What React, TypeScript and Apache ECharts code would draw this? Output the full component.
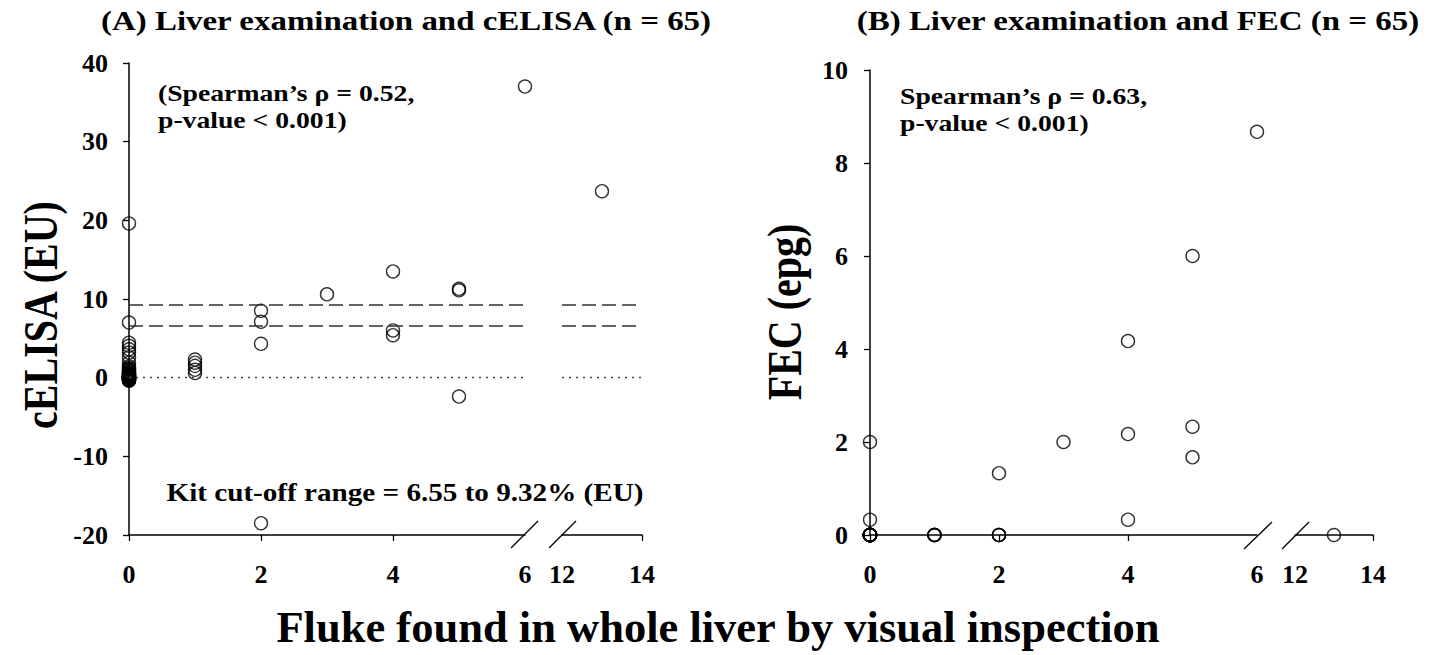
import React, { useEffect, useRef } from "react";
import * as echarts from "echarts";

const flukeCounts = [0, 1, 2, 3, 4, 5, 6, 13];

const elisaByFluke: number[][] = [
  [
    19.6, 7.0, 4.45, 4.05, 3.6, 3.2, 2.6,
    1.9, 1.45, 1.25, 1.1, 1.0, 0.9, 0.8, 0.7, 0.6, 0.55,
    0.5, 0.45, 0.4, 0.35, 0.3, 0.25, 0.2, 0.18, 0.15, 0.12,
    0.1, 0.08, 0.05, 0.03, 0.0, 0.0, 0.0, -0.02, -0.05, -0.08,
    -0.1, -0.12, -0.15, -0.18, -0.2, -0.25, -0.28, -0.3, -0.35, -0.4,
  ],
  [2.3, 1.9, 1.5, 1.0, 0.6],
  [8.5, 7.1, 4.3, -18.5],
  [10.6],
  [13.5, 6.0, 5.4],
  [11.3, 11.1, -2.4],
  [37.0],
  [23.7],
];

const fecByFluke: number[][] = [
  [
    2.0, 0.33,
    0, 0, 0, 0, 0, 0, 0, 0, 0, 0, 0, 0, 0, 0, 0,
    0, 0, 0, 0, 0, 0, 0, 0, 0, 0, 0, 0, 0, 0, 0,
    0, 0, 0, 0, 0, 0, 0, 0, 0, 0, 0, 0, 0, 0, 0,
  ],
  [0, 0, 0, 0, 0],
  [1.33, 0, 0, 0],
  [2.0],
  [4.17, 2.17, 0.33],
  [6.0, 2.33, 1.67],
  [8.67],
  [0],
];

const cutoffLow = 6.55;
const cutoffHigh = 9.32;

const xTicksMain = [0, 2, 4];
const xTicksBreak = [14];
const elisaTicks = [-20, -10, 0, 10, 20, 30, 40];
const fecTicks = [0, 2, 4, 6, 8, 10];

const FONT = '"Liberation Serif", "Times New Roman", serif';

function points(byFluke: number[][], keep: (x: number) => boolean) {
  const out: number[][] = [];
  flukeCounts.forEach((x, i) => {
    if (!keep(x)) return;
    byFluke[i].forEach((v) => out.push([x, v]));
  });
  return out;
}

export default function App() {
  const ref = useRef<HTMLDivElement>(null);

  useEffect(() => {
    document.body.style.margin = "0";
    if (!ref.current) return;
    const chart = echarts.init(ref.current, null, { renderer: "svg" });

    const axisLine = { show: true, onZero: false, lineStyle: { color: "#000", width: 1.5 } };
    const labelStyle = {
      color: "#000",
      fontFamily: FONT,
      fontWeight: "bold" as const,
      fontSize: 26,
    };

    const sym = {
      symbol: "circle",
      symbolSize: 13,
      itemStyle: { color: "transparent", borderColor: "#000", borderWidth: 1.4 },
      emphasis: { disabled: true },
    };

    const cutLines = {
      silent: true,
      symbol: ["none", "none"],
      label: { show: false },
      data: [
        { yAxis: cutoffHigh, lineStyle: { type: [14, 6], color: "#333", width: 1.7 } },
        { yAxis: cutoffLow, lineStyle: { type: [14, 6], color: "#333", width: 1.7 } },
        { yAxis: 0, lineStyle: { type: [2, 5], color: "#444", width: 1.4 } },
      ],
    };

    const lineStyle = { stroke: "#000", lineWidth: 1.3 };

    const text = (
      x: number,
      y: number,
      t: string,
      size: number,
      align: string = "center",
      opts: { rotation?: number; scaleX?: number; scaleY?: number } = {}
    ) => ({
      type: "text",
      x,
      y,
      rotation: opts.rotation ?? 0,
      scaleX: opts.scaleX ?? 1,
      scaleY: opts.scaleY ?? 1,
      style: {
        text: t,
        x: 0,
        y: 0,
        fill: "#000",
        font: `bold ${size}px ${FONT}`,
        textAlign: align,
        textVerticalAlign: "middle",
      },
    });

    const xAxisCommon = {
      type: "value",
      interval: 2,
      axisLine,
      splitLine: { show: false },
      axisLabel: { ...labelStyle, margin: 26 },
    };

    chart.setOption({
      animation: false,
      backgroundColor: "#fff",
      grid: [
        { left: 129, top: 63, width: 396, height: 472 },
        { left: 562, top: 63, width: 80, height: 472 },
        { left: 870, top: 70, width: 387, height: 465 },
        { left: 1295, top: 70, width: 78, height: 465 },
      ],
      xAxis: [
        {
          ...xAxisCommon, gridIndex: 0, min: 0, max: 6,
          axisTick: { show: true, length: 6, customValues: xTicksMain, lineStyle: { color: "#000", width: 1.3 } },
        },
        {
          ...xAxisCommon, gridIndex: 1, min: 12, max: 14,
          axisTick: { show: true, length: 6, customValues: xTicksBreak, lineStyle: { color: "#000", width: 1.3 } },
        },
        {
          ...xAxisCommon, gridIndex: 2, min: 0, max: 6,
          axisTick: { show: true, length: 6, customValues: xTicksMain, lineStyle: { color: "#000", width: 1.3 } },
        },
        {
          ...xAxisCommon, gridIndex: 3, min: 12, max: 14,
          axisTick: { show: true, length: 6, customValues: xTicksBreak, lineStyle: { color: "#000", width: 1.3 } },
        },
      ],
      yAxis: [
        {
          type: "value", gridIndex: 0, min: -20, max: 40, interval: 10,
          axisLine, splitLine: { show: false },
          axisTick: { show: true, length: 6, customValues: elisaTicks, lineStyle: { color: "#000", width: 1.3 } },
          axisLabel: { ...labelStyle, margin: 21 },
        },
        { type: "value", gridIndex: 1, min: -20, max: 40, interval: 10, show: false },
        {
          type: "value", gridIndex: 2, min: 0, max: 10, interval: 2,
          axisLine, splitLine: { show: false },
          axisTick: { show: true, length: 6, customValues: fecTicks, lineStyle: { color: "#000", width: 1.3 } },
          axisLabel: { ...labelStyle, margin: 22 },
        },
        { type: "value", gridIndex: 3, min: 0, max: 10, interval: 2, show: false },
      ],
      series: [
        {
          type: "scatter", xAxisIndex: 0, yAxisIndex: 0, ...sym,
          data: points(elisaByFluke, (x) => x <= 6), markLine: cutLines,
        },
        {
          type: "scatter", xAxisIndex: 1, yAxisIndex: 1, ...sym,
          data: points(elisaByFluke, (x) => x >= 12), markLine: cutLines,
        },
        {
          type: "scatter", xAxisIndex: 2, yAxisIndex: 2, ...sym,
          data: points(fecByFluke, (x) => x <= 6),
        },
        {
          type: "scatter", xAxisIndex: 3, yAxisIndex: 3, ...sym,
          data: points(fecByFluke, (x) => x >= 12),
        },
      ],
      graphic: [
        { type: "line", shape: { x1: 511, y1: 548, x2: 538, y2: 521 }, style: lineStyle },
        { type: "line", shape: { x1: 549, y1: 548, x2: 576, y2: 521 }, style: lineStyle },
        { type: "line", shape: { x1: 1244, y1: 549, x2: 1272, y2: 522 }, style: lineStyle },
        { type: "line", shape: { x1: 1282, y1: 549, x2: 1309, y2: 522 }, style: lineStyle },
        text(406, 21, "(A) Liver examination and cELISA (n = 65)", 27, "center", { scaleX: 1.22 }),
        text(1138, 21, "(B) Liver examination and FEC (n = 65)", 27, "center", { scaleX: 1.22 }),
        text(158, 93, "(Spearman\u2019s \u03c1 = 0.52,", 22.5, "left", { scaleX: 1.23 }),
        text(158, 120, "p-value < 0.001)", 22.5, "left", { scaleX: 1.23 }),
        text(900, 96, "Spearman\u2019s \u03c1 = 0.63,", 22.5, "left", { scaleX: 1.23 }),
        text(900, 123, "p-value < 0.001)", 22.5, "left", { scaleX: 1.23 }),
        text(405, 493, "Kit cut-off range = 6.55 to 9.32% (EU)", 24.5, "center", { scaleX: 1.19 }),
        text(41, 315, "cELISA (EU)", 40, "center", { rotation: Math.PI / 2, scaleY: 1.2 }),
        text(785, 312, "FEC (epg)", 40, "center", { rotation: Math.PI / 2, scaleY: 1.2 }),
        text(718, 627, "Fluke found in whole liver by visual inspection", 44.5),
      ],
    });

    return () => chart.dispose();
  }, []);

  return (
    <div
      ref={ref}
      style={{ position: "fixed", left: 0, top: 0, width: 1436, height: 655 }}
    />
  );
}
